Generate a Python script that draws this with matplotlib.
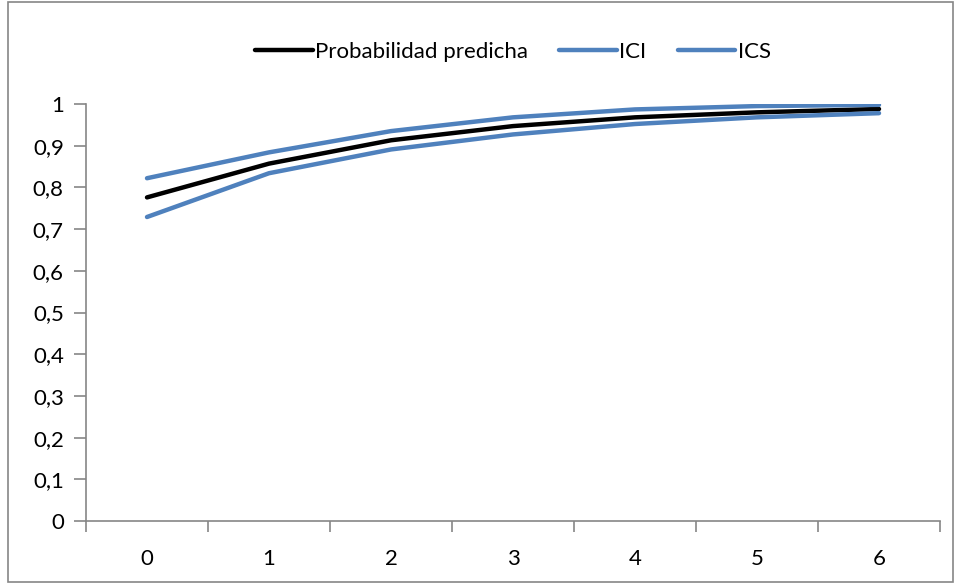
import matplotlib
matplotlib.use('Agg')
from matplotlib import pyplot as plt
from matplotlib.patches import Rectangle

plt.rcParams['font.family'] = ['Lato', 'DejaVu Sans']

x_labels = ['0', '1', '2', '3', '4', '5', '6']
prob = [0.776, 0.857, 0.913, 0.947, 0.968, 0.980, 0.988]
ici = [0.729, 0.834, 0.891, 0.927, 0.952, 0.968, 0.978]
ics = [0.822, 0.884, 0.935, 0.968, 0.987, 0.995, 0.998]
y_ticks = [0, 0.1, 0.2, 0.3, 0.4, 0.5, 0.6, 0.7, 0.8, 0.9, 1]

blue = '#4F81BD'
grey = '#868686'

fig = plt.figure(figsize=(9.56, 5.83), dpi=100)
ax = fig.add_axes([86 / 956, 62 / 583, 854 / 956, 417 / 583])

xs = range(len(x_labels))
ax.plot(xs, prob, color='black', lw=3.2, solid_capstyle='round', label='Probabilidad predicha')
ax.plot(xs, ici, color=blue, lw=3.2, solid_capstyle='round', label='ICI')
ax.plot(xs, ics, color=blue, lw=3.2, solid_capstyle='round', label='ICS')

ax.set_xlim(-0.5, len(x_labels) - 0.5)
ax.set_ylim(0, 1)
ax.set_yticks(y_ticks)
ax.set_yticklabels([('%g' % v).replace('.', ',') for v in y_ticks])
ax.set_xticks(list(xs))
ax.set_xticklabels(x_labels)
ax.set_xticks([i - 0.5 for i in range(len(x_labels) + 1)], minor=True)

for s in ['top', 'right']:
    ax.spines[s].set_visible(False)
for s in ['left', 'bottom']:
    ax.spines[s].set_color(grey)
    ax.spines[s].set_linewidth(1.2)

ax.tick_params(axis='y', direction='out', length=9, width=1.2, color=grey, labelsize=16, pad=7)
ax.tick_params(axis='x', which='major', length=0, labelsize=16, pad=20)
ax.tick_params(axis='x', which='minor', direction='out', length=8, width=1.2, color=grey)

ax.legend(loc='center', bbox_to_anchor=(0.5, 1.125), ncol=3, frameon=False,
          fontsize=16, handlelength=2.6, handletextpad=0.1, columnspacing=1.4)

fig.patches.append(Rectangle((8 / 956, 0.002), 945 / 956, 0.994, transform=fig.transFigure,
                             fill=False, edgecolor=grey, lw=1.2))

fig.savefig('out.png', dpi=100)
